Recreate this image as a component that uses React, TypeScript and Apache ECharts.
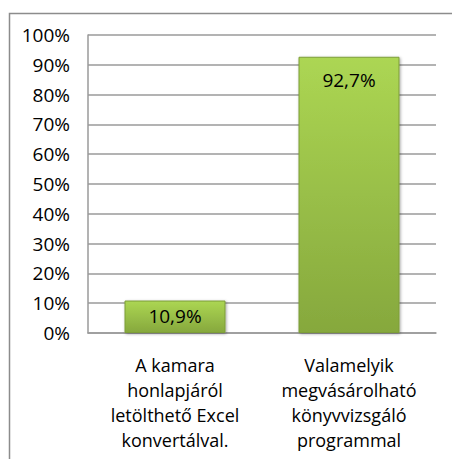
import React, { useEffect, useRef } from "react";
import * as echarts from "echarts";

const categories = [
  "A kamara\nhonlapjáról\nletölthető Excel\nkonvertálval.",
  "Valamelyik\nmegvásárolható\nkönyvvizsgáló\nprogrammal",
];
const values = [10.9, 92.7];
const yTicks = [0, 10, 20, 30, 40, 50, 60, 70, 80, 90, 100];

const FONT = "'Open Sans', Lato, sans-serif";

export default function App() {
  const ref = useRef<HTMLDivElement>(null);
  useEffect(() => {
    if (!ref.current) return;
    const chart = echarts.init(ref.current, undefined, { renderer: "svg" });
    const barColor = new echarts.graphic.LinearGradient(0, 0, 0, 1, [
      { offset: 0, color: "#acd653" },
      { offset: 1, color: "#86a83d" },
    ]);
    chart.setOption({
      animation: false,
      backgroundColor: "#ffffff",
      graphic: [
        {
          type: "rect",
          shape: { x: 9.5, y: 13.5, width: 480, height: 480 },
          style: { fill: "none", stroke: "#8c8c8c", lineWidth: 1.5 },
          silent: true,
        },
      ],
      grid: { left: 88, top: 35, right: 16, bottom: 126, containLabel: false },
      xAxis: {
        type: "category",
        data: categories,
        axisLine: { show: true, lineStyle: { color: "#9a9a9a", width: 1.5 } },
        axisTick: { show: false },
        axisLabel: {
          interval: 0,
          margin: 19,
          fontFamily: FONT,
          fontSize: 18,
          lineHeight: 25,
          color: "#000000",
          align: "center",
        },
      },
      yAxis: {
        type: "value",
        min: yTicks[0],
        max: yTicks[yTicks.length - 1],
        interval: 10,
        axisLine: { show: true, lineStyle: { color: "#9a9a9a", width: 1.5 } },
        axisTick: { show: false },
        splitLine: { lineStyle: { color: "#9a9a9a", width: 1.5 } },
        axisLabel: {
          margin: 18,
          fontFamily: FONT,
          fontSize: 19,
          fontWeight: "normal",
          color: "#000000",
          formatter: (v: number) => `${v}%`,
        },
      },
      series: [
        {
          type: "bar",
          barWidth: 101,
          data: values.map((v, i) => ({
            value: v,
            label: {
              show: true,
              position: "insideTop",
              distance: i === 0 ? 6 : 14,
              formatter: () => `${String(v).replace(".", ",")}%`,
              fontFamily: FONT,
              fontSize: 19,
              color: "#000000",
            },
          })),
          itemStyle: {
            color: barColor,
            borderColor: "#7d9d38",
            borderWidth: 1,
            shadowColor: "rgba(0,0,0,0.35)",
            shadowBlur: 3,
            shadowOffsetX: 1,
            shadowOffsetY: 1,
          },
        },
      ],
    });
    return () => chart.dispose();
  }, []);
  return (
    <div
      ref={ref}
      style={{ position: "fixed", left: 0, top: 0, width: 452, height: 459 }}
    />
  );
}
